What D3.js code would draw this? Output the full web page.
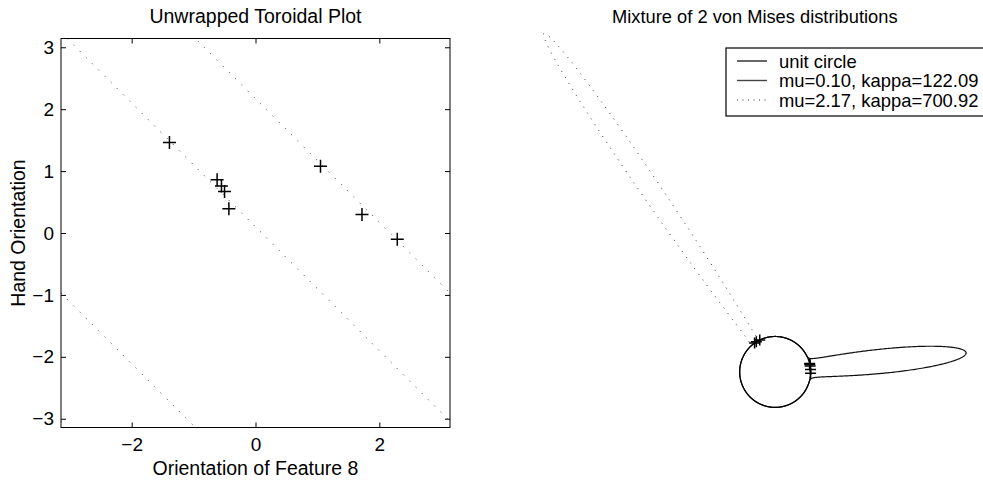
<!DOCTYPE html>
<html>
<head>
<meta charset="utf-8">
<script src="https://cdn.jsdelivr.net/npm/d3@7"></script>
<style>
  body { margin: 0; background: #fff; }
  text { font-family: "Liberation Sans", Arial, Helvetica, sans-serif; fill: #000; }
</style>
</head>
<body>
<div id="chart"></div>
<script>
// data
const featureX = [-1.39, -0.62, -0.55, -0.50, -0.43, 1.05, 1.72, 2.29];
const handY = [1.46, 0.86, 0.76, 0.67, 0.39, 1.08, 0.30, -0.10];
const mus = [0.10, 2.17];
const kappas = [122.09, 700.92];
const xTicks = [-2, 0, 2];
const yTicks = [-3, -2, -1, 0, 1, 2, 3];
const legendLabels = ['unit circle', 'mu=0.10, kappa=122.09', 'mu=2.17, kappa=700.92'];

const W = 983, H = 482;
const PI = Math.PI;

const svg = d3.select('#chart').append('svg')
  .attr('width', W).attr('height', H)
  .attr('viewBox', [0, 0, W, H]);

// ---------- left: unwrapped toroidal plot ----------
const L = { x: 61, y: 38.5, size: 389 };
const x = d3.scaleLinear().domain([-PI, PI]).range([L.x, L.x + L.size]);
const y = d3.scaleLinear().domain([-PI, PI]).range([L.y + L.size, L.y]);

svg.append('clipPath').attr('id', 'clipL')
  .append('rect').attr('x', L.x).attr('y', L.y).attr('width', L.size).attr('height', L.size);

const gL = svg.append('g');

// model lines y = mu - x (wrapped)
const diag = [];
mus.forEach(mu => [-1, 0, 1].forEach(k => diag.push(mu + 2 * PI * k)));
gL.append('g').attr('clip-path', 'url(#clipL)')
  .selectAll('line').data(diag).join('line')
  .attr('x1', x(-PI)).attr('y1', c => y(c + PI))
  .attr('x2', x(PI)).attr('y2', c => y(c - PI))
  .attr('stroke', '#333').attr('stroke-width', 1)
  .attr('stroke-dasharray', '1 7.8');

// frame and inside ticks
gL.append('rect').attr('x', L.x).attr('y', L.y).attr('width', L.size).attr('height', L.size)
  .attr('fill', 'none').attr('stroke', '#000').attr('stroke-width', 1);

const tl = 5;
gL.append('g').attr('transform', `translate(0,${L.y + L.size})`)
  .call(d3.axisBottom(x).tickValues(xTicks).tickSize(-tl).tickPadding(10).tickFormat(d3.format('d')))
  .call(g => g.select('.domain').remove());
gL.append('g').attr('transform', `translate(0,${L.y})`)
  .call(d3.axisTop(x).tickValues(xTicks).tickSize(-tl).tickFormat(''))
  .call(g => g.select('.domain').remove());
gL.append('g').attr('transform', `translate(${L.x},0)`)
  .call(d3.axisLeft(y).tickValues(yTicks).tickSize(-tl).tickPadding(7).tickFormat(d3.format('d')))
  .call(g => g.select('.domain').remove());
gL.append('g').attr('transform', `translate(${L.x + L.size},0)`)
  .call(d3.axisRight(y).tickValues(yTicks).tickSize(-tl).tickFormat(''))
  .call(g => g.select('.domain').remove());

svg.selectAll('.tick line').attr('stroke', '#000');
svg.selectAll('.tick text').attr('font-size', 19).attr('fill', '#000')
  .attr('font-family', '"Liberation Sans", Arial, sans-serif');

// plus markers
const pts = featureX.map((v, i) => [v, handY[i]]);
const plus = (sel, px, py, s) => {
  sel.append('path')
    .attr('d', d => `M${px(d) - s},${py(d)}H${px(d) + s}M${px(d)},${py(d) - s}V${py(d) + s}`)
    .attr('stroke', '#000').attr('stroke-width', 1.5).attr('fill', 'none');
};
gL.selectAll('g.pt').data(pts).join('g').attr('class', 'pt')
  .each(function() { plus(d3.select(this), d => x(d[0]), d => y(d[1]), 6.5); });

svg.append('text').attr('x', L.x + L.size / 2).attr('y', 23)
  .attr('text-anchor', 'middle').attr('font-size', 19.5).text('Unwrapped Toroidal Plot');
svg.append('text').attr('x', L.x + L.size / 2).attr('y', 475)
  .attr('text-anchor', 'middle').attr('font-size', 19.5).text('Orientation of Feature 8');
svg.append('text').attr('transform', `translate(25,${L.y + L.size / 2}) rotate(-90)`)
  .attr('text-anchor', 'middle').attr('font-size', 19.5).text('Hand Orientation');

// ---------- right: mixture of von Mises on the circle ----------
// von Mises density, using e^k / I0(k) asymptotic to avoid overflow
const vm = (t, mu, k) => Math.exp(k * (Math.cos(t - mu) - 1)) *
  Math.sqrt(2 * PI * k) * (1 + 1 / (8 * k) + 9 / (128 * k * k)) / (2 * PI);

const angles = d3.range(0, 2 * PI + 1e-9, 2 * PI / 4000);
const circle = angles.map(t => [Math.cos(t), Math.sin(t)]);
const lobes = mus.map((mu, i) => angles.map(t => {
  const r = 1 + vm(t, mu, kappas[i]);
  return [r * Math.cos(t), r * Math.sin(t)];
}));

const all = [].concat(circle, ...lobes);
const xe = d3.extent(all, d => d[0]);
const ye = d3.extent(all, d => d[1]);
const unit = 35.46;
const R = { x: 543.5, y: 33.2 };
const xr = d3.scaleLinear().domain(xe).range([R.x, R.x + (xe[1] - xe[0]) * unit]);
const yr = d3.scaleLinear().domain(ye).range([R.y + (ye[1] - ye[0]) * unit, R.y]);
const lineR = d3.line().x(d => xr(d[0])).y(d => yr(d[1]));

const gR = svg.append('g');
const styles = [
  { stroke: '#000', width: 1.2, dash: null },
  { stroke: '#444', width: 1.4, dash: null },
  { stroke: '#333', width: 1, dash: '1 6' }
];
gR.append('path').datum(lobes[1]).attr('d', lineR).attr('fill', 'none')
  .attr('stroke', styles[2].stroke).attr('stroke-width', styles[2].width).attr('stroke-dasharray', styles[2].dash);
gR.append('path').datum(lobes[0]).attr('d', lineR).attr('fill', 'none')
  .attr('stroke', '#111').attr('stroke-width', 1.2);
gR.append('path').datum(circle).attr('d', lineR).attr('fill', 'none')
  .attr('stroke', styles[0].stroke).attr('stroke-width', styles[0].width);

// observations wrapped onto the circle
const onCircle = pts.map(d => [Math.cos(d[0] + d[1]), Math.sin(d[0] + d[1])]);
gR.selectAll('g.pc').data(onCircle).join('g').attr('class', 'pc')
  .each(function() { plus(d3.select(this), d => xr(d[0]), d => yr(d[1]), 5.5); });

svg.append('text').attr('x', (xr.range()[0] + xr.range()[1]) / 2).attr('y', 23)
  .attr('text-anchor', 'middle').attr('font-size', 18.3).text('Mixture of 2 von Mises distributions');

// legend
const lg = svg.append('g').attr('transform', 'translate(726,48)');
lg.append('rect').attr('width', 280).attr('height', 68)
  .attr('fill', '#fff').attr('stroke', '#000').attr('stroke-width', 1.2);
legendLabels.forEach((lab, i) => {
  const ly = 13 + i * 19.5;
  lg.append('line').attr('x1', 11).attr('x2', 41).attr('y1', ly).attr('y2', ly)
    .attr('stroke', styles[i].stroke).attr('stroke-width', styles[i].width)
    .attr('stroke-dasharray', styles[i].dash ? '1 4.5' : null);
  lg.append('text').attr('x', 53).attr('y', ly + 6.5).attr('font-size', 18.4).text(lab);
});
</script>
</body>
</html>
